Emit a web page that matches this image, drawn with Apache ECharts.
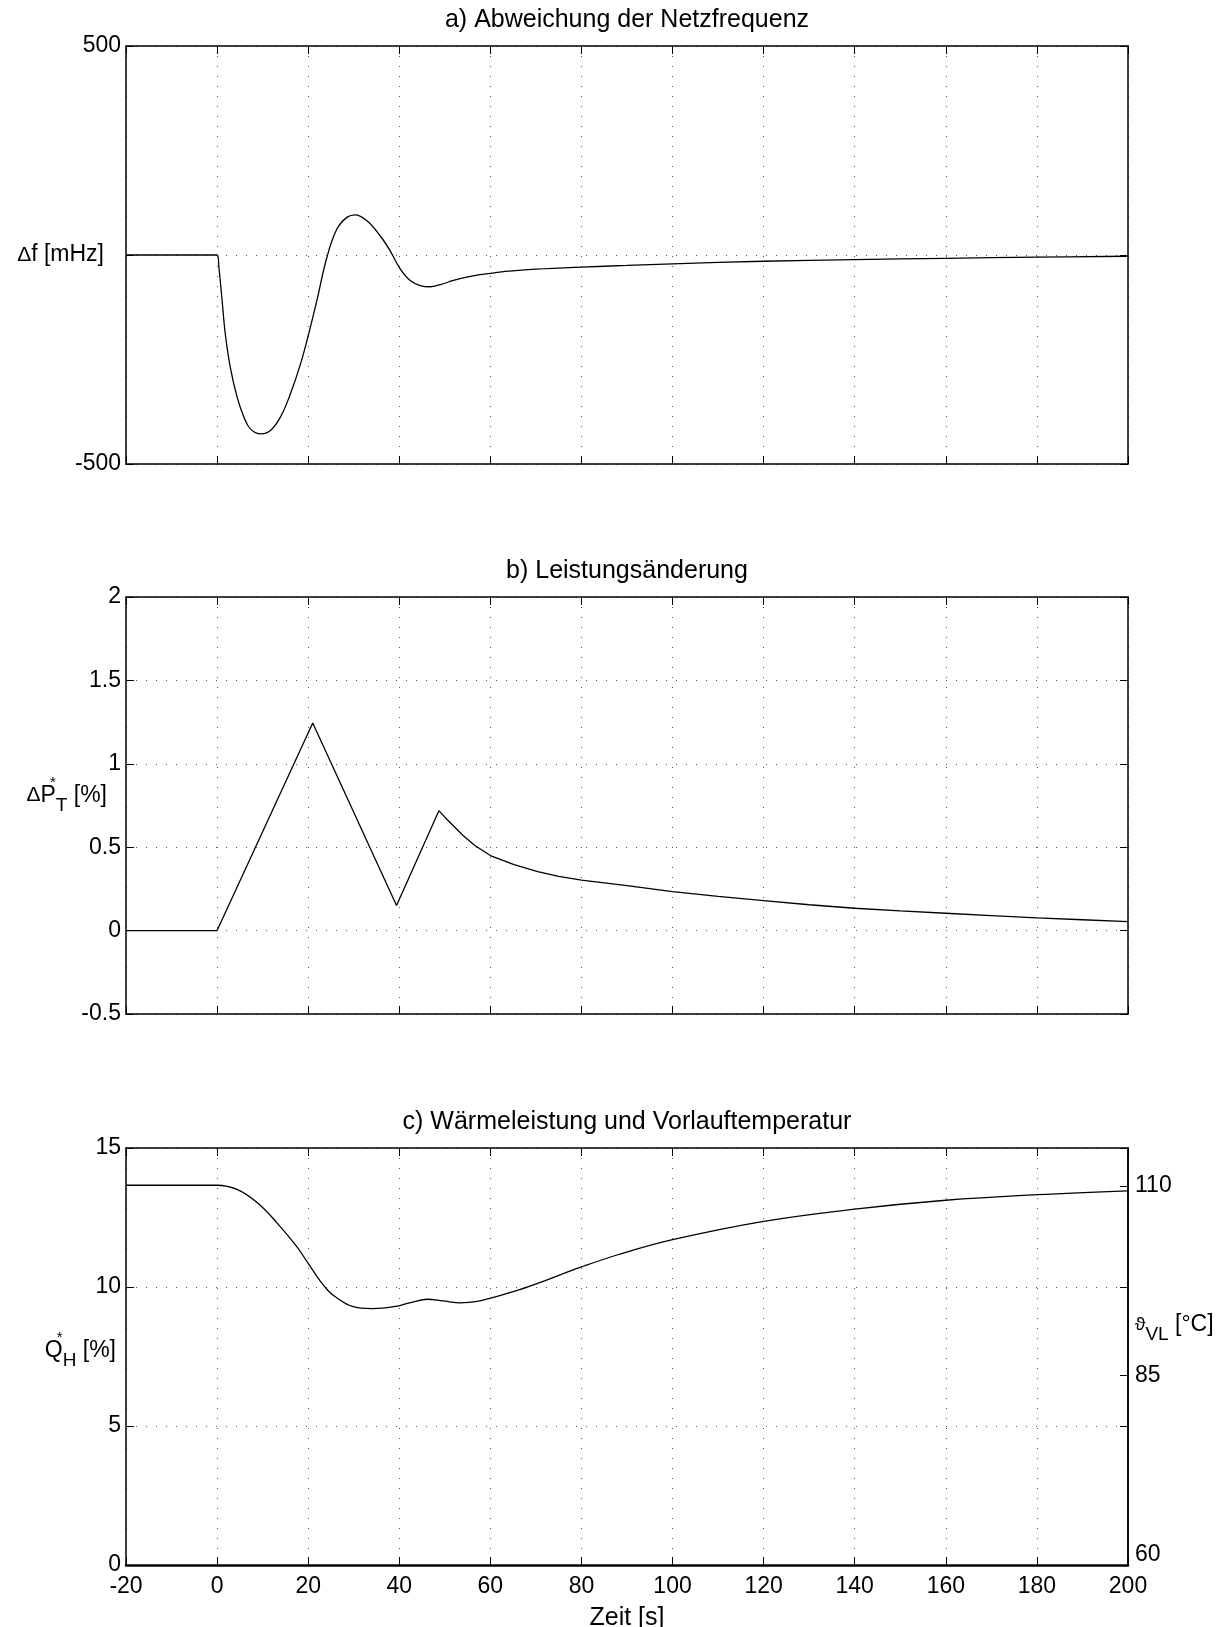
<!DOCTYPE html>
<html>
<head>
<meta charset="utf-8">
<script src="https://cdn.jsdelivr.net/npm/echarts/dist/echarts.min.js"></script>
<style>html,body{margin:0;padding:0;background:#fff;}#chart{width:1231px;height:1627px;}</style>
</head>
<body>
<div id="chart"></div>
<script>
// ---- data ----
const titles = ['a) Abweichung der Netzfrequenz', 'b) Leistungsänderung', 'c) Wärmeleistung und Vorlauftemperatur'];
const timeRange = [-20, 200];
const timeStep = 20;

// a) frequency deviation [mHz]
const tA  = [-20, 0, 0.4, 1.1, 1.8, 2.9, 4.4, 5.9, 7.3, 9.6, 11.7, 13.9, 16.1, 18.3, 20.1, 21.9, 24.1, 26.3, 28.5, 30.3, 32.9, 35.8, 38, 40.2, 42.4, 44.6, 46.8, 49, 51.9, 54.8, 57.7, 60, 62, 65, 70, 80, 90, 100, 120, 140, 160, 180, 200];
const dfA = [0, 0, -30, -109, -189, -269, -340, -388, -416, -428, -420, -388, -332, -261, -189, -109, -6, 62, 90, 96, 82, 46, 10, -33, -61, -73, -76, -71, -61, -53, -47, -44, -41, -38, -34, -29, -25, -21, -15, -11, -8, -5, -3];

// b) power change [%]
const tB  = [-20, 0, 21.0, 39.4, 48.7, 50, 52.2, 54, 56.6, 60, 65.2, 70.4, 75, 80, 90, 100, 110, 120, 130, 140, 150, 160, 170, 180, 190, 200];
const dpB = [0, 0, 1.244, 0.150, 0.719, 0.68, 0.62, 0.57, 0.51, 0.45, 0.395, 0.353, 0.325, 0.303, 0.27, 0.234, 0.205, 0.18, 0.155, 0.134, 0.118, 0.104, 0.09, 0.076, 0.065, 0.054];

// c) heat output [%]
const tC  = [-20, 0, 4.5, 8.9, 13.2, 17.5, 20, 22.7, 24.5, 26.2, 29.7, 34, 39.2, 42.7, 46.2, 49.6, 53.5, 57.4, 60, 65.2, 70.5, 80, 88, 100, 120, 140, 160, 180, 200];
const qC  = [13.66, 13.66, 13.5, 13.02, 12.3, 11.45, 10.85, 10.2, 9.85, 9.62, 9.3, 9.22, 9.3, 9.45, 9.56, 9.5, 9.43, 9.49, 9.6, 9.84, 10.14, 10.72, 11.16, 11.7, 12.36, 12.8, 13.12, 13.32, 13.46];

// axis scales
const yA = {min: -500, max: 500, interval: 500};
const yB = {min: -0.5, max: 2, interval: 0.5};
const yC = {min: 0, max: 15, interval: 5};
const yT = {min: 60, max: 115, interval: 25};   // right axis, flow temperature [°C]

// ---- chart ----
const FONT = '"Liberation Sans", Arial, Helvetica, sans-serif';
const FS = 23;
const FT = 25;
const pair = (t, v) => t.map((x, i) => [x, v[i]]);

const grids = [
  {left: 126, width: 1002, top: 46, height: 418},
  {left: 126, width: 1002, top: 597, height: 417},
  {left: 126, width: 1002, top: 1148, height: 417}
];
grids.forEach(g => { g.outerBoundsMode = 'none'; g.containLabel = false; });

const axisLine = (w) => ({show: true, onZero: false, lineStyle: {color: '#000', width: w || 1.5}});
const tick = {show: true, inside: true, length: 8, lineStyle: {color: '#000', width: 1}};
const dotted = {show: true, lineStyle: {color: '#555', width: 1, type: [1, 9]}};
const lblStyle = {color: '#000', fontSize: FS, fontFamily: FONT};
const richBase = {
  m:   {fontSize: FS, fontFamily: FONT, color: '#000', lineHeight: 40},
  d:   {fontSize: 21, fontFamily: FONT, color: '#000', lineHeight: 40},
  sup: {fontSize: 15, fontFamily: FONT, color: '#000', lineHeight: 18, verticalAlign: 'top', width: 0},
  sub: {fontSize: 19, fontFamily: FONT, color: '#000', lineHeight: 22, verticalAlign: 'bottom'},
  th:  {fontSize: 19, fontFamily: FONT, color: '#000', lineHeight: 40},
  lo:  {fontSize: FS, fontFamily: FONT, color: '#000', padding: [0, 0, 20, 0]}
};

const xAxes = [];
grids.forEach((g, i) => {
  xAxes.push({
    type: 'value', gridIndex: i, position: 'bottom',
    min: timeRange[0], max: timeRange[1], interval: timeStep,
    axisLine: axisLine(i === 2 ? 2.5 : 1.5), axisTick: tick,
    axisLabel: Object.assign({show: i === 2, margin: 10}, lblStyle),
    splitLine: dotted,
    name: i === 2 ? 'Zeit [s]' : '', nameLocation: 'middle', nameGap: 41,
    nameTextStyle: {color: '#000', fontSize: FT, fontFamily: FONT}, nameMoveOverlap: false
  });
  xAxes.push({
    type: 'value', gridIndex: i, position: 'top',
    min: timeRange[0], max: timeRange[1], interval: timeStep,
    axisLine: axisLine(1.5), axisTick: tick,
    axisLabel: {show: false}, splitLine: {show: false}
  });
});

function leftAxis(i, sc, name, extra) {
  return Object.assign({
    type: 'value', gridIndex: i, position: 'left',
    min: sc.min, max: sc.max, interval: sc.interval,
    axisLine: axisLine(1.5), axisTick: tick,
    axisLabel: Object.assign({margin: 5}, lblStyle),
    splitLine: dotted,
    name: name, nameLocation: 'middle', nameRotate: 0, nameMoveOverlap: false
  }, extra || {});
}
function mirrorAxis(i, sc) {
  return {
    type: 'value', gridIndex: i, position: 'right',
    min: sc.min, max: sc.max, interval: sc.interval,
    axisLine: axisLine(1.5), axisTick: tick,
    axisLabel: {show: false}, splitLine: {show: false}
  };
}

const yAxes = [
  leftAxis(0, yA, '{d|Δ}{m|f [mHz]}', {
    nameGap: 22, nameTextStyle: Object.assign({rich: richBase}, lblStyle),
    axisLabel: Object.assign({margin: 5, formatter: v => (v === 0 ? '' : String(v))}, lblStyle)
  }),
  mirrorAxis(0, yA),
  leftAxis(1, yB, '{d|Δ}{m|P}{sup|*}{sub|T}{m| [%]}', {
    nameGap: 19, nameTextStyle: Object.assign({padding: [0, 0, 20, 0], rich: richBase}, lblStyle)
  }),
  mirrorAxis(1, yB),
  leftAxis(2, yC, '{m|Q}{sup|*}{sub|H}{m| [%]}', {
    nameGap: 10, nameTextStyle: Object.assign({padding: [0, 0, 12, 0], rich: richBase}, lblStyle)
  }),
  mirrorAxis(2, yC),
  {
    type: 'value', gridIndex: 2, position: 'right',
    min: yT.min, max: yT.max, interval: yT.interval,
    axisLine: axisLine(1.5), axisTick: tick,
    axisLabel: Object.assign({
      margin: 7, showMaxLabel: false, rich: richBase,
      formatter: v => (v === yT.max ? '' : (v === yT.min ? '{lo|' + v + '}' : String(v)))
    }, lblStyle),
    splitLine: {show: false},
    name: '{th|ϑ}{sub|VL}{m| [°C]}', nameLocation: 'middle', nameRotate: 0, nameGap: 7, nameMoveOverlap: false,
    nameTextStyle: Object.assign({padding: [0, 0, 64, 0], rich: richBase}, lblStyle)
  }
];

const lineStyle = {color: '#000', width: 1.3};
const option = {
  animation: false,
  backgroundColor: '#fff',
  title: titles.map((t, i) => ({
    text: t, left: 627, textAlign: 'center', top: grids[i].top - 38, padding: 0,
    textStyle: {fontSize: FT, fontWeight: 'normal', color: '#000', fontFamily: FONT}
  })),
  grid: grids,
  xAxis: xAxes,
  yAxis: yAxes,
  series: [
    {type: 'line', xAxisIndex: 0, yAxisIndex: 0, data: pair(tA, dfA), showSymbol: false, smooth: 0.4, lineStyle: lineStyle},
    {type: 'line', xAxisIndex: 2, yAxisIndex: 2, data: pair(tB, dpB), showSymbol: false, smooth: false, lineStyle: lineStyle},
    {type: 'line', xAxisIndex: 4, yAxisIndex: 4, data: pair(tC, qC), showSymbol: false, smooth: 0.4, lineStyle: lineStyle}
  ]
};

const chart = echarts.init(document.getElementById('chart'), null, {renderer: 'canvas'});
chart.setOption(option);
</script>
</body>
</html>
